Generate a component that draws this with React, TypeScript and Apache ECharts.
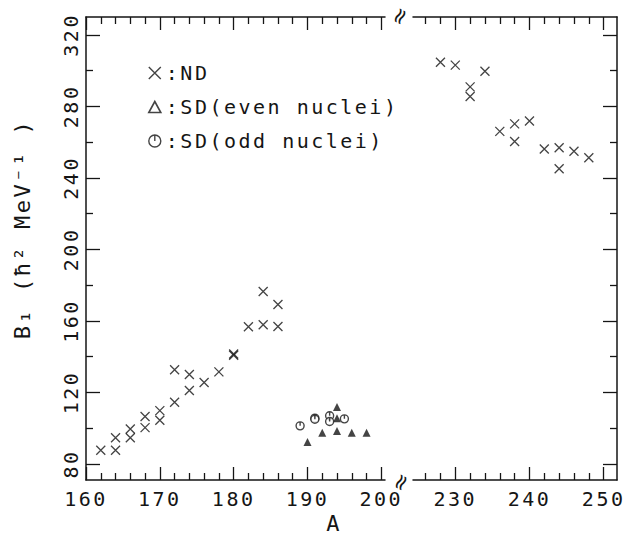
import React, { useEffect, useRef } from 'react';
import * as echarts from 'echarts';

// ---- data (A, B1) ----
const ndLeftA = [162, 164, 164, 166, 166, 168, 168, 170, 170, 172, 172, 174, 174, 176, 178, 180, 180, 182, 184, 184, 186, 186];
const ndLeftB = [87.6, 87.6, 94.6, 99.5, 94.6, 106.5, 100.3, 109.8, 104.4, 132.7, 114.5, 130.0, 121.1, 125.5, 131.5, 141.5, 140.8, 156.7, 176.4, 157.8, 169.2, 156.9];
const ndRightA = [228, 230, 232, 232, 234, 236, 238, 238, 240, 242, 244, 244, 246, 248];
const ndRightB = [304.7, 303.1, 290.9, 285.5, 299.7, 266.0, 270.2, 260.4, 271.8, 256.2, 256.9, 245.1, 254.9, 251.3];
const sdEvenA = [190, 192, 194, 194, 194, 196, 198];
const sdEvenB = [92.3, 97.4, 111.8, 105.6, 98.4, 97.4, 97.4];
const sdOddA = [189, 191, 191, 193, 193, 195];
const sdOddB = [101.3, 105.6, 105.0, 106.9, 103.7, 105.2];

// ---- ticks ----
const yMajor = [80, 120, 160, 200, 240, 280, 320];
const yMinor = [100, 140, 180, 220, 260, 300];
const xMajorLeft = [160, 170, 180, 190, 200];
const xMinorLeft = [162, 164, 166, 168, 172, 174, 176, 178, 182, 184, 186, 188, 192, 194, 196, 198];
const xMajorRight = [230, 240, 250];
const xMinorRight = [226, 228, 232, 234, 236, 238, 242, 244, 246, 248];

const legendNames = ['ND', 'SD(even nuclei)', 'SD(odd nuclei)'];

const Y_MIN = 71;
const Y_MAX = 330;
const XL_MIN = 160;
const XL_MAX = 200.5;
const XR_MIN = 224.3;
const XR_MAX = 251.8;

const INK = '#151515';
const FONT = "'DejaVu Sans Mono', monospace";
const crossPath = 'path://M0,0 L10,10 M10,0 L0,10';
const oddPath = 'path://M5,0 A5,5 0 1,1 5,10 A5,5 0 1,1 5,0 Z M5,0 L5,5';
const triPath = 'path://M6,0 L12,11 L0,11 Z';

const labelFont = { fontFamily: FONT, fontSize: 20, color: INK };

function makeX(gridIndex: number, position: string, min: number, max: number, ticks: number[], len: number, labels: number[] | null, line: boolean) {
  return {
    type: 'value', gridIndex, position, min, max,
    axisLine: { show: line, onZero: false, lineStyle: { color: INK, width: 1.5 } },
    axisTick: { show: true, inside: true, length: len, customValues: ticks, lineStyle: { color: INK, width: 1.3 } },
    axisLabel: labels ? { show: true, customValues: labels, margin: 9, ...labelFont } : { show: false },
    splitLine: { show: false },
  };
}

function makeY(gridIndex: number, position: string, ticks: number[], len: number, labels: number[] | null, line: boolean) {
  return {
    type: 'value', gridIndex, position, min: Y_MIN, max: Y_MAX,
    axisLine: { show: line, onZero: false, lineStyle: { color: INK, width: 1.5 } },
    axisTick: { show: true, inside: true, length: len, customValues: ticks, lineStyle: { color: INK, width: 1.3 } },
    axisLabel: labels ? { show: true, customValues: labels, rotate: 90, margin: 5, ...labelFont } : { show: false },
    splitLine: { show: false },
  };
}

const pairs = (a: number[], b: number[]) => a.map((v, i) => [v, b[i]]);

export default function App() {
  const ref = useRef<HTMLDivElement>(null);
  useEffect(() => {
    const chart = echarts.init(ref.current!, null, { renderer: 'svg' });
    const crossStyle = { color: 'transparent', borderColor: INK, borderWidth: 1.3 };
    const center = { align: 'center', verticalAlign: 'middle', textAlign: 'center', textVerticalAlign: 'middle' };
    chart.setOption({
      animation: false,
      backgroundColor: '#fff',
      grid: [
        { left: 86, top: 17, width: 299, height: 463 },
        { left: 413, top: 17, width: 204, height: 463 },
      ],
      xAxis: [
        makeX(0, 'bottom', XL_MIN, XL_MAX, xMajorLeft, 13, xMajorLeft, true),
        makeX(0, 'bottom', XL_MIN, XL_MAX, xMinorLeft, 7, null, false),
        makeX(0, 'top', XL_MIN, XL_MAX, xMajorLeft, 13, null, true),
        makeX(0, 'top', XL_MIN, XL_MAX, xMinorLeft, 7, null, false),
        makeX(1, 'bottom', XR_MIN, XR_MAX, xMajorRight, 13, xMajorRight, true),
        makeX(1, 'bottom', XR_MIN, XR_MAX, xMinorRight, 7, null, false),
        makeX(1, 'top', XR_MIN, XR_MAX, xMajorRight, 13, null, true),
        makeX(1, 'top', XR_MIN, XR_MAX, xMinorRight, 7, null, false),
      ],
      yAxis: [
        makeY(0, 'left', yMajor, 14, yMajor, true),
        makeY(0, 'left', yMinor, 7, null, false),
        makeY(1, 'right', yMajor, 14, null, true),
        makeY(1, 'right', yMinor, 7, null, false),
      ],
      legend: {
        left: 143, top: 58, orient: 'vertical', itemGap: 14, itemWidth: 12, itemHeight: 12,
        selectedMode: false,
        formatter: (n: string) => ':' + n,
        textStyle: { ...labelFont, lineHeight: 20 },
        data: [
          { name: legendNames[0], icon: crossPath, itemStyle: { color: 'transparent', borderColor: INK, borderWidth: 1.4 } },
          { name: legendNames[1], icon: triPath, itemStyle: { color: '#fff', borderColor: INK, borderWidth: 1.6 } },
          { name: legendNames[2], icon: oddPath, itemStyle: { color: '#fff', borderColor: INK, borderWidth: 1.4 } },
        ],
      },
      series: [
        { type: 'scatter', name: legendNames[0], xAxisIndex: 0, yAxisIndex: 0, data: pairs(ndLeftA, ndLeftB), symbol: crossPath, symbolSize: 9, itemStyle: crossStyle },
        { type: 'scatter', name: legendNames[0], xAxisIndex: 4, yAxisIndex: 2, data: pairs(ndRightA, ndRightB), symbol: crossPath, symbolSize: 9, itemStyle: crossStyle },
        { type: 'scatter', name: legendNames[1], xAxisIndex: 0, yAxisIndex: 0, data: pairs(sdEvenA, sdEvenB), symbol: 'triangle', symbolSize: 8, itemStyle: { color: INK } },
        { type: 'scatter', name: legendNames[2], xAxisIndex: 0, yAxisIndex: 0, data: pairs(sdOddA, sdOddB), symbol: oddPath, symbolSize: 8, itemStyle: { color: '#fff', borderColor: INK, borderWidth: 1.4 } },
      ],
      graphic: [
        {
          type: 'text', x: 334, y: 523,
          style: { text: 'A', font: `22px ${FONT}`, fill: INK, ...center },
        },
        {
          type: 'text', x: 22, y: 229, rotation: Math.PI / 2,
          style: { text: 'B\u2081 (\u0127\u00b2 MeV\u207b\u00b9 )', font: `22px ${FONT}`, fill: INK, ...center },
        },
        {
          type: 'text', x: 400, y: 15, rotation: 1.1,
          style: { text: '\u2248', font: `22px 'DejaVu Sans'`, fill: INK, ...center },
        },
        {
          type: 'text', x: 401, y: 481, rotation: 1.1,
          style: { text: '\u2248', font: `22px 'DejaVu Sans'`, fill: INK, ...center },
        },
      ],
    });
    return () => chart.dispose();
  }, []);
  return (
    <>
      <style>{`body { margin: 0; } .bchart text { letter-spacing: 2.5px; }`}</style>
      <div ref={ref} className="bchart" style={{ width: 626, height: 536 }} />
    </>
  );
}
